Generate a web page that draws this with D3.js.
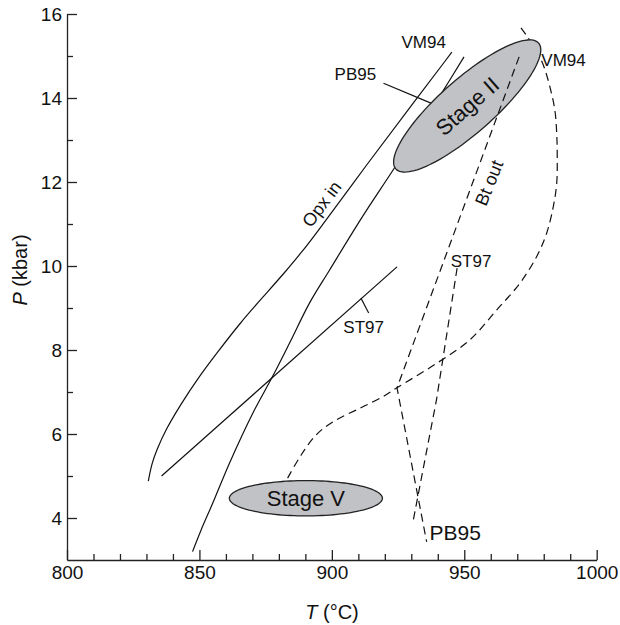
<!DOCTYPE html>
<meta charset="utf-8">
<script src="https://d3js.org/d3.v7.min.js"></script>
<style>
  body { margin: 0; background: #fff; }
  text { font-family: "Liberation Sans", Arial, Helvetica, sans-serif; fill: #111; }
</style>
<div id="chart"></div>
<script>

// ---- data (T in °C, P in kbar) ----
const xTicks = [800, 850, 900, 950, 1000];
const xMinor = [810, 820, 830, 840, 860, 870, 880, 890, 910, 920, 930, 940, 960, 970, 980, 990];
const yTicks = [4, 6, 8, 10, 12, 14, 16];
const yMinor = [5, 7, 9, 11, 13, 15];

// solid reaction curves
const opxIn = [[830.7, 4.88], [832.0, 5.30], [833.9, 5.62], [837.2, 6.10], [843.2, 6.73], [849.0, 7.29],
  [856.5, 7.92], [865.3, 8.64], [874.1, 9.27], [883.0, 9.90], [889.2, 10.38], [892.3, 10.62], [914.4, 12.52],
  [929.8, 13.80], [945.3, 15.09]];
const pb95Solid = [[847.4, 3.20], [850.6, 3.71], [855.0, 4.35], [861.3, 5.30], [870.1, 6.49], [877.7, 7.38],
  [884.0, 8.16], [891.5, 9.11], [899.1, 9.90], [911.2, 11.14], [924.1, 12.38], [941.4, 14.11], [949.9, 14.98]];
const st97Solid = [[835.7, 5.00], [924.6, 9.98]];

// dashed curves (Bt out)
const vm94Dashed = [[883.3, 4.95], [888.4, 5.50], [894.1, 5.98], [900.4, 6.29], [910.5, 6.61], [919.3, 6.89],
  [924.3, 7.09], [939.5, 7.68], [952.1, 8.24], [962.2, 8.95], [971.0, 9.59], [977.3, 10.22], [981.1, 10.78],
  [983.6, 11.41], [984.9, 11.97], [985.1, 12.60], [984.9, 13.16], [984.2, 13.71], [982.3, 14.27],
  [979.8, 14.79], [976.7, 15.19], [973.6, 15.48], [971.4, 15.67]];
const pb95Dashed = [[970.7, 14.98], [924.6, 7.10], [935.8, 3.43]];
const st97Dashed = [[947.3, 9.95], [939.5, 6.81], [930.6, 3.90]];

// leader lines
const pb95Leader = [[919.5, 14.35], [938.1, 13.86]];
const st97Leader = [[911.0, 9.23], [913.9, 8.88]];

// PT fields: centre and two conjugate half-axes, all in data units
const stage2 = { name: "Stage II", T: 951.1, P: 13.81, a: [26.95, 1.498], b: [6.77, -0.482] };
const stage5 = { name: "Stage V", T: 890.2, P: 4.47, a: [28.9, 0], b: [0, 0.42] };

// curve labels
const curveLabels = [
  { text: "VM94", T: 934.7, P: 15.19, anchor: "middle" },
  { text: "PB95", T: 908.9, P: 14.43, anchor: "middle" },
  { text: "VM94", T: 979.1, P: 14.76, anchor: "start" },
  { text: "ST97", T: 912.0, P: 8.40, anchor: "middle" },
  { text: "ST97", T: 944.9, P: 9.98, anchor: "start" }
];

// ---- chart ----
const width = 620, height = 625;

const svg = d3.select("#chart")
  .append("svg")
  .attr("width", width)
  .attr("height", height);

const x = d3.scaleLinear().domain([800, 1000]).range([67, 596.7]);
const y = d3.scaleLinear().domain([3, 16]).range([560, 14]);

// axes, ticks point inward
const xAxis = svg.append("g")
  .attr("transform", `translate(0, ${y(3)})`)
  .call(d3.axisBottom(x).tickValues(xTicks).tickSizeInner(-10).tickSizeOuter(0).tickPadding(6).tickFormat(d3.format("d")));
svg.append("g")
  .attr("transform", `translate(0, ${y(3)})`)
  .call(d3.axisBottom(x).tickValues(xMinor).tickSize(-6).tickFormat(""))
  .call(g => g.select(".domain").remove());

const yAxis = svg.append("g")
  .attr("transform", `translate(${x(800)}, 0)`)
  .call(d3.axisLeft(y).tickValues(yTicks).tickSizeInner(-10).tickSizeOuter(0).tickPadding(5));
svg.append("g")
  .attr("transform", `translate(${x(800)}, 0)`)
  .call(d3.axisLeft(y).tickValues(yMinor).tickSize(-6).tickFormat(""))
  .call(g => g.select(".domain").remove());

svg.selectAll(".domain, .tick line").attr("stroke", "#222").attr("stroke-width", 1.3);
xAxis.selectAll("text").style("font-size", "19px").attr("fill", "#111");
yAxis.selectAll("text").style("font-size", "19px").attr("fill", "#111").attr("dy", "0.36em");

// axis titles
const xTitle = svg.append("text")
  .attr("x", 332).attr("y", 619)
  .attr("text-anchor", "middle")
  .style("font-size", "20px");
xTitle.append("tspan").style("font-style", "italic").text("T");
xTitle.append("tspan").text(" (°C)");

const yTitle = svg.append("text")
  .attr("transform", "translate(27, 270) rotate(-90)")
  .attr("text-anchor", "middle")
  .style("font-size", "20px");
yTitle.append("tspan").style("font-style", "italic").text("P");
yTitle.append("tspan").text(" (kbar)");

// line generators
const smooth = d3.line().x(d => x(d[0])).y(d => y(d[1])).curve(d3.curveCatmullRom.alpha(0.5));
const soft = d3.line().x(d => x(d[0])).y(d => y(d[1])).curve(d3.curveBasis);
const straight = d3.line().x(d => x(d[0])).y(d => y(d[1]));

function drawPath(data, gen, dashed) {
  svg.append("path")
    .datum(data)
    .attr("d", gen)
    .attr("fill", "none")
    .attr("stroke", "#111")
    .attr("stroke-width", 1.2)
    .attr("stroke-dasharray", dashed ? "8,5" : null);
}

// ellipse as parametric path in data space
function ellipsePoints(e) {
  return d3.range(0, 121).map(i => {
    const t = i / 120 * 2 * Math.PI;
    return [e.T + Math.cos(t) * e.a[0] + Math.sin(t) * e.b[0],
            e.P + Math.cos(t) * e.a[1] + Math.sin(t) * e.b[1]];
  });
}
function drawField(e) {
  svg.append("path")
    .datum(ellipsePoints(e))
    .attr("d", d3.line().x(d => x(d[0])).y(d => y(d[1])).curve(d3.curveLinearClosed))
    .attr("fill", "#c1c2c5")
    .attr("stroke", "#222")
    .attr("stroke-width", 1.3);
  const ang = Math.atan2(y(e.P + e.a[1]) - y(e.P), x(e.T + e.a[0]) - x(e.T)) * 180 / Math.PI;
  svg.append("text")
    .attr("transform", `translate(${x(e.T)}, ${y(e.P)}) rotate(${ang})`)
    .attr("text-anchor", "middle")
    .attr("dy", "0.36em")
    .style("font-size", "22px")
    .text(e.name);
}

drawPath(opxIn, soft, false);
drawPath(pb95Solid, smooth, false);
drawPath(st97Solid, straight, false);
drawPath(vm94Dashed, smooth, true);
drawPath(st97Dashed, straight, true);
drawPath(pb95Leader, straight, false);
drawPath(st97Leader, straight, false);

drawField(stage5);
drawField(stage2);

// Bt out curve lies over the Stage II field
drawPath(pb95Dashed, straight, true);

// labels
svg.selectAll(".curve-label")
  .data(curveLabels)
  .enter()
  .append("text")
  .attr("class", "curve-label")
  .attr("x", d => x(d.T))
  .attr("y", d => y(d.P))
  .attr("text-anchor", d => d.anchor)
  .style("font-size", "17px")
  .text(d => d.text);

svg.append("text")
  .attr("x", x(936.9)).attr("y", y(3.48))
  .style("font-size", "21px")
  .text("PB95");

svg.append("text")
  .attr("transform", `translate(${x(896.1)}, ${y(11.48)}) rotate(-53)`)
  .attr("text-anchor", "middle")
  .attr("dy", "0.36em")
  .style("font-size", "18px")
  .text("Opx in");

svg.append("text")
  .attr("transform", `translate(${x(959.3)}, ${y(11.98)}) rotate(-68)`)
  .attr("text-anchor", "middle")
  .attr("dy", "0.36em")
  .style("font-size", "18px")
  .text("Bt out");

</script>
